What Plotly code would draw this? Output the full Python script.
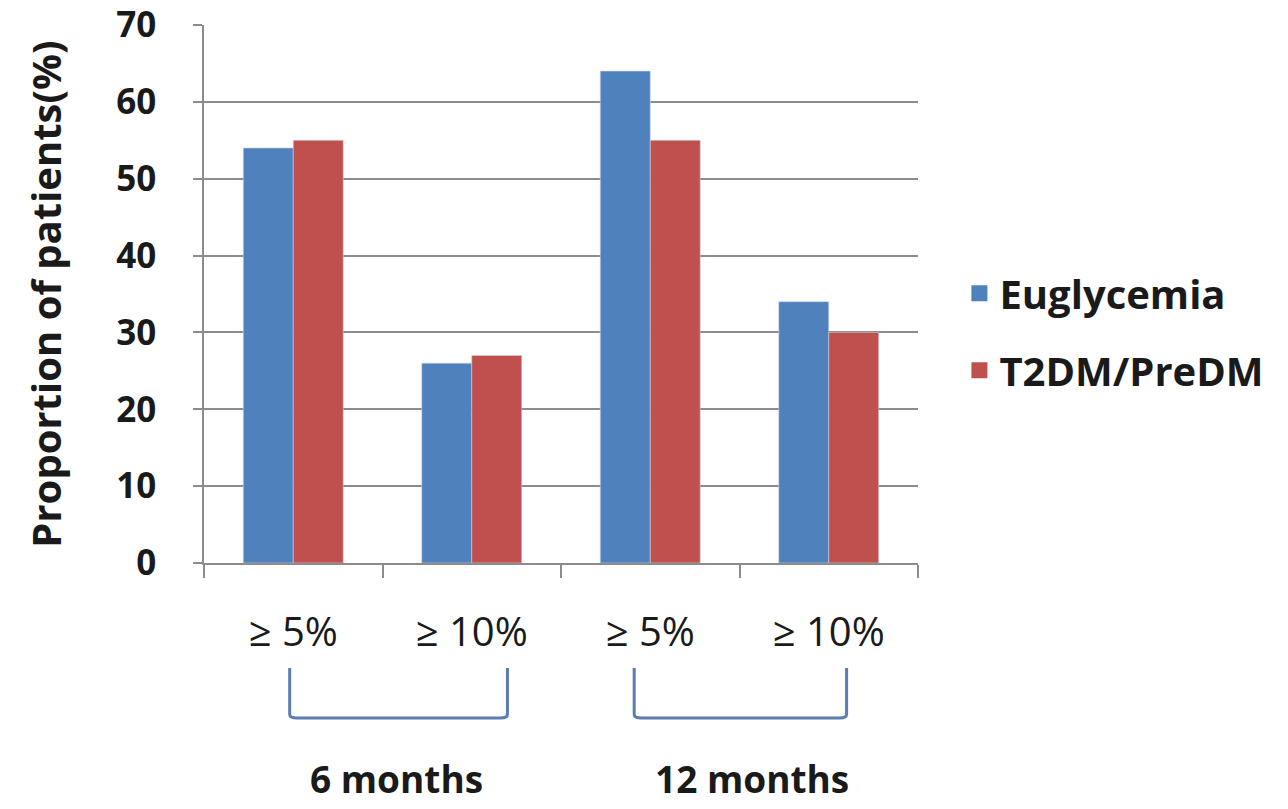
import plotly.graph_objects as go

categories = ["≥ 5%", "≥ 10%", "≥ 5%\u200b", "≥ 10%\u200b"]
tick_text = ["≥ 5%", "≥ 10%", "≥ 5%", "≥ 10%"]
euglycemia = [54, 26, 64, 34]
t2dm = [55, 27, 55, 30]
y_ticks = [0, 10, 20, 30, 40, 50, 60, 70]
periods = ["6 months", "12 months"]
series_names = ["Euglycemia", "T2DM/PreDM"]

BLUE = "#4F81BD"
RED = "#C0504D"
GRID = "#8C8C8C"
FONT = "Open Sans, Liberation Sans, DejaVu Sans, sans-serif"

fig = go.Figure()
for name, vals, col in zip(series_names, [euglycemia, t2dm], [BLUE, RED]):
    fig.add_trace(go.Bar(name=name, x=categories, y=vals,
                         marker=dict(color=col, line=dict(color="#C9D3E0", width=0.6)),
                         showlegend=False))
# legend entries with larger square swatches
for i, (name, col) in enumerate(zip(series_names, [BLUE, RED])):
    fig.add_trace(go.Scatter(name=name, x=[None], y=[None], mode="markers",
                             marker=dict(symbol="square", size=23, color=col),
                             legendgroup=f"g{i}", showlegend=True))

# brackets (x in category units, y in paper units)
brackets = [(-0.02, 1.2), (1.91, 3.1)]
label_x = [0.58, 2.57]
for (x0, x1), lx, label in zip(brackets, label_x, periods):
    fig.add_shape(type="path", xref="x", yref="paper",
                  path=f"M {x0},-0.195 L {x0},-0.281 Q {x0},-0.288 {x0+0.04},-0.288 "
                       f"L {x1-0.04},-0.288 Q {x1},-0.288 {x1},-0.281 L {x1},-0.195",
                  line=dict(color="#5B7DB1", width=3))
    fig.add_annotation(x=lx, y=-0.40, xref="x", yref="paper",
                       text=f"<b>{label}</b>", showarrow=False,
                       font=dict(size=37, color="#1a1a1a", family=FONT),
                       xanchor="center", yanchor="middle")

fig.update_layout(
    width=1288, height=809,
    margin=dict(l=204, r=370, t=25, b=246),
    paper_bgcolor="white", plot_bgcolor="white",
    barmode="group", bargap=0.44, bargroupgap=0,
    font=dict(family=FONT, color="#1a1a1a"),
    legend=dict(x=1.058, y=0.43, xanchor="left", yanchor="middle",
                font=dict(size=40, family=FONT, color="#1a1a1a", weight="bold"),
                tracegroupgap=22, itemsizing="trace", traceorder="grouped",
                itemwidth=30),
    showlegend=True,
)
fig.update_xaxes(
    type="category", tickvals=categories, ticktext=tick_text,
    showline=True, linecolor=GRID, linewidth=1.5,
    ticks="outside", tickson="boundaries", ticklen=13, tickcolor=GRID, tickwidth=1.5,
    tickfont=dict(size=40, family=FONT, color="#1a1a1a"),
    ticklabelstandoff=33, showgrid=False, zeroline=False, automargin=False,
)
fig.update_yaxes(
    range=[0, 70], tickvals=y_ticks,
    showline=True, linecolor=GRID, linewidth=1.5,
    ticks="outside", ticklen=9, tickcolor=GRID, tickwidth=1.5,
    showgrid=True, gridcolor=GRID, gridwidth=1.5, zeroline=False,
    tickfont=dict(size=35, family=FONT, color="#1a1a1a", weight="bold"),
    ticklabelstandoff=30, ticklabeloverflow="allow", automargin=False,
    title=dict(text="<b>Proportion of patients(%)</b>",
               font=dict(size=40, family=FONT, color="#1a1a1a"), standoff=42),
)

fig.write_html("out.html")
